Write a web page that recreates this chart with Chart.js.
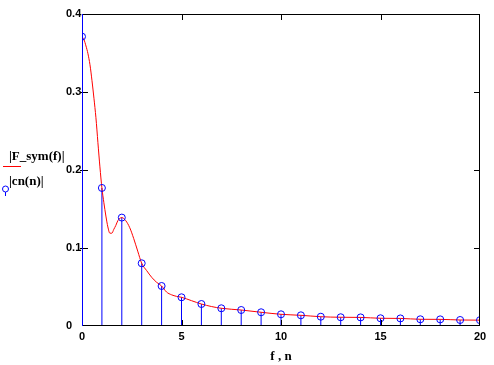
<!DOCTYPE html>
<html>
<head>
<meta charset="utf-8">
<script src="https://cdn.jsdelivr.net/npm/chart.js@4.4.1/dist/chart.umd.min.js"></script>
<style>
  html, body { margin: 0; padding: 0; background: #fff; }
</style>
</head>
<body>
<canvas id="chart" width="494" height="365"></canvas>
<script>
// harmonic number n and |cn(n)|
const harmonics = [0, 1, 2, 3, 4, 5, 6, 7, 8, 9, 10, 11, 12, 13, 14, 15, 16, 17, 18, 19, 20];
const cnValues = [0.371, 0.177, 0.139, 0.0804, 0.0513, 0.0368, 0.0282, 0.0227, 0.0205, 0.0176, 0.015,
    0.0137, 0.0119, 0.0112, 0.011, 0.0099, 0.0097, 0.0086, 0.0085, 0.0077, 0.0075];

// continuous spectrum |F_sym(f)|
const freqs = [0, 0.1, 0.2, 0.3, 0.4, 0.5, 0.6, 0.7, 0.8, 0.9, 1, 1.1, 1.2, 1.3, 1.4, 1.5, 1.6, 1.7, 1.8, 1.9, 2,
    2.2, 2.4, 2.6, 2.8, 3, 3.25, 3.5, 3.75, 4, 4.25, 4.5, 4.75, 5, 5.5, 6, 6.5,
    7, 8, 9, 10, 11, 12, 13, 14, 15, 16, 17, 18, 19, 20];
const fsymValues = [0.371, 0.367, 0.359, 0.349, 0.335, 0.315, 0.292, 0.267, 0.235, 0.204, 0.177,
    0.158, 0.141, 0.127, 0.119, 0.119, 0.124, 0.129, 0.135, 0.138, 0.139,
    0.135, 0.126, 0.112, 0.096, 0.0804, 0.071, 0.0625, 0.056, 0.0513, 0.0435, 0.040, 0.038, 0.0368, 0.0325, 0.0282, 0.025,
    0.0227, 0.0205, 0.0176, 0.015, 0.0137, 0.0119, 0.0112, 0.011, 0.0099, 0.0097, 0.0086, 0.0085, 0.0077, 0.0075];

const xTicks = [0, 5, 10, 15, 20];
const xTickLabels = ['0', '5', '10', '15', '20'];
const yTicks = [0, 0.1, 0.2, 0.3, 0.4];
const yTickLabels = ['0', '0.1', '0.2', '0.3', '0.4'];

const RED = '#ff0000';
const BLUE = '#0000ff';
const tickFont = { family: '"Liberation Sans", Arial, sans-serif', size: 11, weight: 'bold' };

// box round the plot, inward ticks, and the little two-line legend on the left
const frame = {
    id: 'frame',
    afterDatasetsDraw(chart) {
        const { ctx, chartArea: a, scales: { x, y } } = chart;
        ctx.save();
        ctx.lineWidth = 1;
        ctx.strokeStyle = '#000';
        ctx.strokeRect(a.left + 0.5, a.top + 0.5, a.right - a.left - 1, a.bottom - a.top - 1);
        ctx.beginPath();
        xTicks.slice(1, -1).forEach(v => {
            const px = Math.round(x.getPixelForValue(v)) + 0.5;
            ctx.moveTo(px, a.top); ctx.lineTo(px, a.top + 6);
            ctx.moveTo(px, a.bottom); ctx.lineTo(px, a.bottom - 6);
        });
        yTicks.slice(1, -1).forEach(v => {
            const py = Math.round(y.getPixelForValue(v)) + 0.5;
            ctx.moveTo(a.left - 2, py); ctx.lineTo(a.left + 6, py);
            ctx.moveTo(a.right, py); ctx.lineTo(a.right - 6, py);
        });
        ctx.stroke();
        // left axis shows in the trace colour
        ctx.strokeStyle = BLUE;
        ctx.beginPath();
        ctx.moveTo(a.left + 0.5, a.top);
        ctx.lineTo(a.left + 0.5, a.bottom);
        ctx.stroke();
        ctx.restore();
    },
    afterDraw(chart) {
        const { ctx } = chart;
        ctx.save();
        ctx.fillStyle = '#000';
        ctx.font = 'bold 13px "Liberation Serif", "Times New Roman", serif';
        ctx.textBaseline = 'alphabetic';
        ctx.textAlign = 'left';
        ctx.fillText('|F_sym(f)|', 9, 160);
        ctx.fillText('|cn(n)|', 9, 185);
        ctx.strokeStyle = RED;
        ctx.lineWidth = 1;
        ctx.beginPath();
        ctx.moveTo(3, 166.5); ctx.lineTo(21, 166.5);
        ctx.stroke();
        ctx.strokeStyle = BLUE;
        ctx.beginPath();
        ctx.arc(5.5, 189, 3, 0, Math.PI * 2);
        ctx.moveTo(5.5, 192); ctx.lineTo(5.5, 196);
        ctx.stroke();
        ctx.restore();
    }
};

new Chart(document.getElementById('chart'), {
    type: 'scatter',
    data: {
        datasets: [
            {
                type: 'scatter',
                label: '|cn(n)|',
                data: harmonics.map((n, i) => ({ x: n, y: cnValues[i] })),
                pointStyle: 'circle',
                pointRadius: 3.5,
                pointBorderWidth: 1,
                pointBorderColor: BLUE,
                pointBackgroundColor: 'rgba(0,0,0,0)',
                order: 0
            },
            {
                type: 'line',
                label: '|F_sym(f)|',
                data: freqs.map((f, i) => ({ x: f, y: fsymValues[i] })),
                borderColor: RED,
                borderWidth: 1,
                pointRadius: 0,
                fill: false,
                cubicInterpolationMode: 'monotone',
                order: 1
            },
            {
                type: 'bar',
                label: 'stems',
                data: harmonics.map((n, i) => ({ x: n, y: cnValues[i] })),
                backgroundColor: BLUE,
                borderWidth: 0,
                barThickness: 1,
                inflateAmount: 0,
                order: 2
            }
        ]
    },
    options: {
        responsive: false,
        animation: false,
        layout: { padding: { left: 66, top: 14, right: 14, bottom: 0 } },
        plugins: {
            legend: { display: false },
            tooltip: { enabled: false }
        },
        scales: {
            x: {
                type: 'linear',
                min: 0,
                max: 20,
                offset: false,
                grid: { display: false, drawTicks: false },
                border: { display: false },
                afterFit: s => { s.height = 39; },
                afterBuildTicks: s => { s.ticks = xTicks.map(v => ({ value: v })); },
                ticks: {
                    color: '#000',
                    font: tickFont,
                    padding: 4,
                    maxRotation: 0,
                    callback: (v, i) => xTickLabels[i]
                },
                title: {
                    display: true,
                    text: 'f , n',
                    color: '#000',
                    font: { family: '"Liberation Serif", "Times New Roman", serif', size: 13, weight: 'bold' },
                    padding: { top: 0, bottom: 1 }
                }
            },
            y: {
                min: 0,
                max: 0.4,
                grid: { display: false, drawTicks: false },
                border: { display: false },
                afterFit: s => { s.width = 16; },
                afterBuildTicks: s => { s.ticks = yTicks.map(v => ({ value: v })); },
                ticks: {
                    color: '#000',
                    font: tickFont,
                    crossAlign: 'far',
                    callback: (v, i) => yTickLabels[i]
                }
            }
        }
    },
    plugins: [frame]
});
</script>
</body>
</html>
